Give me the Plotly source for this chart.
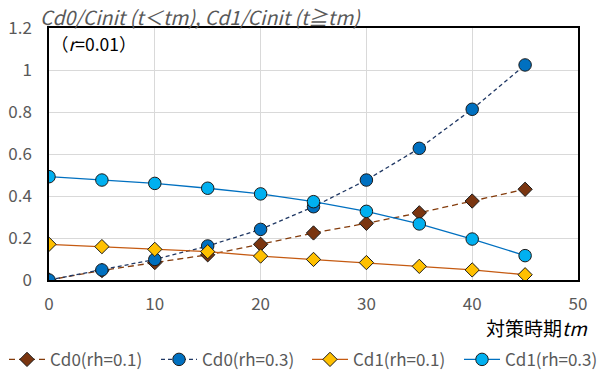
import plotly.graph_objects as go

# Timing of the countermeasure (years)
tm = [0, 5, 10, 15, 20, 25, 30, 35, 40, 45]

# Normalized concentrations
cd0_rh01 = [0.0, 0.045, 0.083, 0.12, 0.17, 0.224, 0.27, 0.32, 0.376, 0.432]
cd0_rh03 = [0.0, 0.048, 0.098, 0.162, 0.241, 0.349, 0.476, 0.627, 0.813, 1.024]
cd1_rh01 = [0.170, 0.159, 0.146, 0.135, 0.114, 0.098, 0.083, 0.065, 0.048, 0.025]
cd1_rh03 = [0.492, 0.476, 0.460, 0.437, 0.410, 0.373, 0.327, 0.267, 0.195, 0.116]

names = ["Cd0(rh=0.1)", "Cd0(rh=0.3)", "Cd1(rh=0.1)", "Cd1(rh=0.3)"]

FONT = "Noto Sans CJK JP, Noto Sans, sans-serif"
GRAY = "#595959"

series = [
    (cd0_rh01, names[0], "#843C0C", "6px,4px", "diamond", "#7A3510", 11),
    (cd0_rh03, names[1], "#203864", "4px,3px", "circle", "#0070C0", 12.5),
    (cd1_rh01, names[2], "#C55A11", "solid", "diamond", "#FFC000", 11),
    (cd1_rh03, names[3], "#0070C0", "solid", "circle", "#00B0F0", 12.5),
]

# one legend box per series so the row is laid out evenly across the bottom
legend_ids = ["legend", "legend2", "legend3", "legend4"]
legend_x_px = [4, 156, 307, 459]

fig = go.Figure()
for (ys, name, lc, dash, sym, mc, ms), lid in zip(series, legend_ids):
    fig.add_trace(go.Scatter(
        x=tm, y=ys, name=name, mode="lines+markers", legend=lid,
        line=dict(color=lc, width=1.3, dash=dash),
        marker=dict(symbol=sym, size=ms, color=mc, line=dict(color="#1a1a1a", width=1)),
    ))

legend_style = dict(
    orientation="h", xref="container", yref="container",
    xanchor="left", y=0.043, yanchor="middle",
    font=dict(size=17, color=GRAY, family=FONT), itemwidth=36,
    bgcolor="rgba(0,0,0,0)",
)
legends = {lid: dict(legend_style, x=px / 603) for lid, px in zip(legend_ids, legend_x_px)}

fig.update_layout(
    width=603, height=376,
    margin=dict(l=49, r=25, t=28, b=96, autoexpand=False),
    paper_bgcolor="white", plot_bgcolor="white",
    font=dict(family=FONT, size=15, color=GRAY),
    showlegend=True,
    xaxis=dict(
        range=[0, 50], tick0=0, dtick=10, showgrid=True, gridcolor="#D9D9D9", gridwidth=1,
        showline=True, linecolor="#000000", linewidth=1.5, mirror=True,
        zeroline=False, ticks="", tickfont=dict(size=17, color=GRAY), ticklabelstandoff=8,
    ),
    yaxis=dict(
        range=[0, 1.2], tick0=0, dtick=0.2, showgrid=True, gridcolor="#D9D9D9", gridwidth=1,
        showline=True, linecolor="#000000", linewidth=1.5, mirror=True,
        zeroline=False, ticks="", tickfont=dict(size=17, color=GRAY), ticklabelstandoff=12,
    ),
    **legends,
)

fig.add_annotation(
    xref="paper", yref="paper", x=-0.02, y=1.044, xanchor="left", yanchor="middle",
    text="<i>Cd0/Cinit (t＜tm), Cd1/Cinit (t≧tm)</i>", showarrow=False,
    font=dict(family=FONT, size=19.5, color=GRAY),
)
fig.add_annotation(
    xref="paper", yref="paper", x=0.0, y=0.94, xanchor="left", yanchor="middle",
    text="（<i>r</i>=0.01）", showarrow=False,
    font=dict(family=FONT, size=17.5, color="#000000"),
)
fig.add_annotation(
    xref="paper", yref="paper", x=1.023, y=-0.187, xanchor="right", yanchor="middle",
    text="対策時期<i>tm</i>", showarrow=False,
    font=dict(family=FONT, size=19, color="#000000"),
)

fig.write_html("out.html")
